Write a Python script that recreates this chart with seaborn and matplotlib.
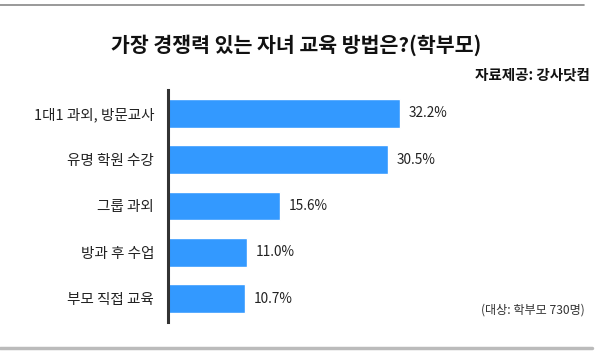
import matplotlib
matplotlib.use('Agg')
import matplotlib.pyplot as plt
import seaborn as sns
import pandas as pd
from matplotlib.lines import Line2D

# data
categories = ['1대1 과외, 방문교사', '유명 학원 수강', '그룹 과외', '방과 후 수업', '부모 직접 교육']
values = [32.2, 30.5, 15.6, 11.0, 10.7]

df = pd.DataFrame({'method': categories, 'pct': values})

sns.set_style('white')
plt.rcParams['font.family'] = ['Noto Sans CJK KR', 'DejaVu Sans']

fig = plt.figure(figsize=(5.96, 3.55), dpi=100)
ax = fig.add_axes([168 / 596, 1 - 322 / 355, (7.2 * 55) / 596, 232 / 355])

sns.barplot(data=df, x='pct', y='method', orient='h', color='#3399FF',
            saturation=1, width=0.62, ax=ax)

ax.set_xlim(0, 55)
ax.set_ylim(4.5, -0.5)
ax.set_xlabel('')
ax.set_ylabel('')
ax.set_xticks([])
ax.tick_params(axis='y', length=0, pad=10, labelsize=10.5, labelcolor='#222222')
for s in ['top', 'right', 'bottom']:
    ax.spines[s].set_visible(False)
ax.spines['left'].set_color('#333333')
ax.spines['left'].set_linewidth(2.2)

for i, v in enumerate(values):
    ax.text(v + 1.2, i, f'{v:.1f}%', va='center', ha='left', fontsize=9.8, color='#222222')

fig.text(296 / 596, 1 - 45 / 355, '가장 경쟁력 있는 자녀 교육 방법은?(학부모)', ha='center', va='center',
         fontsize=14.8, fontweight='bold', color='#111111')
fig.text(590 / 596, 1 - 75 / 355, '자료제공: 강사닷컴', ha='right', va='center',
         fontsize=10.5, fontweight='bold', color='#111111')
fig.text(585 / 596, 1 - 310 / 355, '(대상: 학부모 730명)', ha='right', va='center',
         fontsize=8.7, color='#333333')

fig.add_artist(Line2D([0, 584 / 596], [1 - 5 / 355] * 2, transform=fig.transFigure,
                      color='#888888', linewidth=1.2))
fig.add_artist(Line2D([0, 592 / 596], [1 - 348 / 355] * 2, transform=fig.transFigure,
                      color='#bbbbbb', linewidth=2.5))

fig.savefig('out.png', dpi=100)
